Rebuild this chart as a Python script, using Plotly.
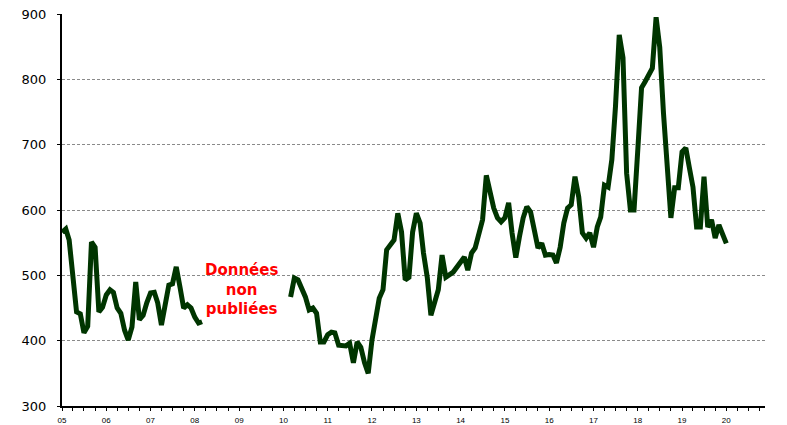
import pandas as pd
import plotly.graph_objects as go

# Série 1 : janvier 2005 - mars 2008 (mensuel)
mois_a = pd.date_range("2005-01-01", periods=39, freq="MS")
prix_a = [566, 571, 554, 488, 444, 441, 412, 422, 551, 543, 444, 451,
          470, 478, 474, 450, 442, 416, 401, 421, 490, 432, 439, 458,
          473, 474, 458, 424, 459, 485, 487, 513, 482, 450, 455, 450,
          436, 427, 429]

# Série 2 : mars 2010 - janvier 2020
mois_b = ["2010-03", "2010-04", "2010-05", "2010-07", "2010-08", "2010-09",
          "2010-10", "2010-11", "2010-12", "2011-01", "2011-02", "2011-03",
          "2011-04", "2011-06", "2011-07", "2011-08", "2011-09", "2011-10",
          "2011-11", "2011-12", "2012-01", "2012-02", "2012-03", "2012-04",
          "2012-05", "2012-07", "2012-08", "2012-09", "2012-10", "2012-11",
          "2012-12", "2013-01", "2013-02", "2013-03", "2013-04", "2013-05",
          "2013-07", "2013-08", "2013-09", "2013-11", "2013-12", "2014-01",
          "2014-02", "2014-03", "2014-04", "2014-05", "2014-07"]
mois_b += [d.strftime("%Y-%m") for d in pd.date_range("2014-08-01", "2020-01-01", freq="MS")]
prix_b = [467, 496, 493, 467, 447, 450, 442, 398, 398, 409, 413, 412,
          393, 392, 396, 366, 398, 390, 366, 350, 401, 436, 465, 478,
          539, 554, 595, 566, 493, 497, 566, 595, 580, 534, 497, 439,
          478, 531, 497, 505, 513, 519, 528, 508, 534, 542, 585,
          653, 626, 603, 588, 582, 588, 611, 565, 527, 559, 588, 605,
          597, 569, 542, 549, 531, 532, 531, 519, 543, 580, 603, 608,
          651, 620, 565, 557, 565, 543, 574, 589, 638, 635, 677, 758,
          868, 833, 656, 600, 600, 692, 787, 796, 809, 817, 895, 849,
          748, 666, 588, 634, 634, 689, 695, 666, 635, 574, 574, 651,
          574, 585, 557, 577, 562, 549]

annees = pd.date_range("2005-01-01", "2020-01-01", freq="YS")
etiquettes = [d.strftime("%y") for d in annees]

vert = "#003500"
x_min, x_max = "2005-01-01", "2020-11-15"

fig = go.Figure()
fig.add_trace(go.Scatter(x=mois_a, y=prix_a, mode="lines",
                         line=dict(color=vert, width=5), showlegend=False))
fig.add_trace(go.Scatter(x=pd.to_datetime(mois_b), y=prix_b, mode="lines",
                         line=dict(color=vert, width=5), showlegend=False))

fig.add_annotation(x="2009-01-20", y=479, text="Données<br>non<br>publiées",
                   showarrow=False, align="center",
                   font=dict(family="DejaVu Sans", size=15, color="#ff0000", weight="bold"))

fig.update_layout(
    width=787, height=425,
    margin=dict(l=62, r=22, t=14, b=19),
    paper_bgcolor="white", plot_bgcolor="white",
    xaxis=dict(
        range=[x_min, x_max], tickvals=annees, ticktext=etiquettes,
        showgrid=False, showline=True, linecolor="black", linewidth=2,
        ticks="outside", ticklen=3, tickcolor="black", tickwidth=1,
        minor=dict(dtick="M3", tick0="2005-01-01", ticks="outside", ticklen=3,
                   tickcolor="black", showgrid=False),
        tickfont=dict(family="Liberation Sans", size=8, color="black"),
        ticklabelstandoff=2, automargin=False,
    ),
    xaxis2=dict(
        overlaying="x", matches="x", range=[x_min, x_max], anchor="y",
        showgrid=False, showline=False, showticklabels=False,
        dtick="M3", tick0="2005-01-01", ticks="inside", ticklen=3,
        tickcolor="black", automargin=False,
    ),
    yaxis=dict(
        range=[300, 900], dtick=100, showgrid=True, gridcolor="#8a8a8a",
        griddash="3px,2px", gridwidth=1, zeroline=False,
        showline=True, linecolor="black", linewidth=2,
        ticks="outside", ticklen=3, tickcolor="black",
        tickfont=dict(family="DejaVu Sans", size=13, color="black"),
        ticklabelstandoff=8, automargin=False,
    ),
    yaxis2=dict(
        overlaying="y", matches="y", range=[300, 900], anchor="x",
        showgrid=False, showline=False, showticklabels=False, zeroline=False,
        dtick=100, ticks="inside", ticklen=3, tickcolor="black",
        automargin=False,
    ),
)

# la page par défaut a une marge de 8 px autour du graphique
fig.write_html("out.html", config={"displayModeBar": False},
               post_script="document.body.style.margin='0';")
